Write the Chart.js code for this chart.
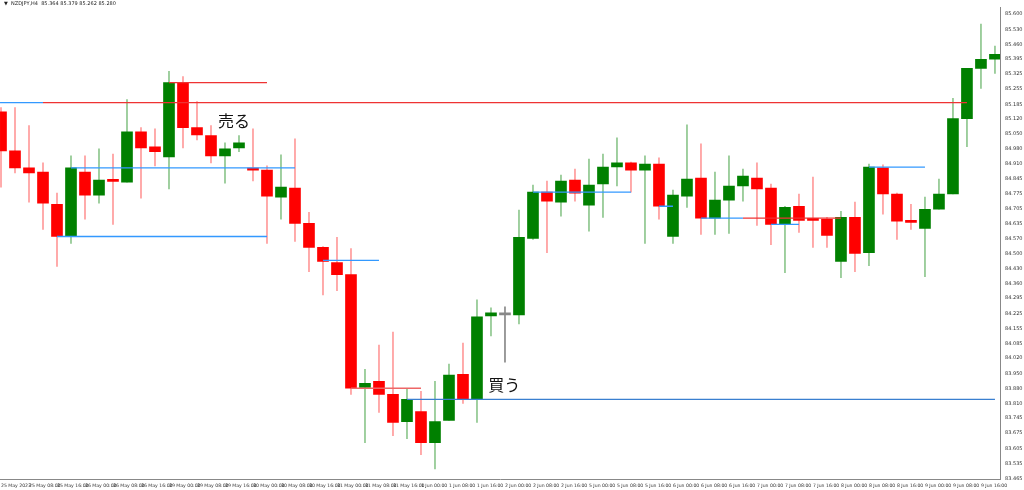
<!DOCTYPE html>
<html>
<head>
<meta charset="utf-8">
<script src="https://cdn.jsdelivr.net/npm/chart.js@4.4.0/dist/chart.umd.min.js"></script>
<style>
  html, body { margin: 0; padding: 0; background: #fff; }
  #wrap { width: 1024px; height: 490px; }
</style>
</head>
<body>
<div id="wrap"><canvas id="chart"></canvas></div>
<script>
// OHLC values (H4 candles)
const opens = [85.151,84.971,84.893,84.874,84.726,84.578,84.874,84.768,84.833,84.828,85.059,84.990,84.944,85.285,85.078,85.041,84.948,84.985,84.888,84.883,84.759,84.800,84.638,84.528,84.458,84.403,83.885,83.913,83.853,83.728,83.774,83.631,83.733,83.945,83.830,84.213,84.218,84.218,84.569,84.782,84.736,84.837,84.722,84.819,84.897,84.916,84.883,84.911,84.578,84.763,84.846,84.662,84.745,84.810,84.846,84.800,84.634,84.717,84.657,84.657,84.463,84.666,84.504,84.893,84.773,84.652,84.615,84.703,84.773,85.119,85.350,85.392];
const highs = [85.170,85.170,85.087,84.916,84.777,84.948,84.948,84.981,84.957,85.207,85.078,85.073,85.336,85.313,85.198,85.087,85.008,85.041,85.073,84.902,84.953,85.027,84.689,84.532,84.574,84.523,83.968,84.079,84.139,83.881,83.867,83.913,83.992,84.089,84.287,84.250,84.255,84.699,84.814,84.833,84.860,84.888,84.934,84.957,85.031,84.920,84.948,84.939,84.791,85.091,85.004,84.874,84.948,84.888,84.916,84.819,84.717,84.773,84.851,84.666,84.694,84.736,84.911,84.907,84.777,84.726,84.759,84.842,85.212,85.350,85.554,85.452];
const lows = [84.805,84.870,84.736,84.611,84.440,84.546,84.657,84.731,84.634,84.828,84.754,84.902,84.796,84.985,85.022,84.916,84.823,84.967,84.833,84.546,84.657,84.555,84.417,84.310,84.329,83.853,83.631,83.770,83.663,83.650,83.576,83.511,83.733,83.811,83.724,84.121,84.001,84.176,84.565,84.504,84.671,84.740,84.602,84.666,84.810,84.781,84.546,84.657,84.546,84.712,84.588,84.588,84.592,84.740,84.629,84.541,84.412,84.597,84.528,84.528,84.389,84.417,84.444,84.680,84.565,84.611,84.394,84.703,84.773,84.990,85.258,85.327];
const closes = [84.971,84.893,84.870,84.731,84.578,84.893,84.768,84.837,84.831,85.059,84.985,84.967,85.285,85.078,85.045,84.948,84.981,85.008,84.883,84.763,84.805,84.638,84.528,84.463,84.403,83.881,83.904,83.853,83.724,83.830,83.631,83.728,83.941,83.830,84.209,84.227,84.218,84.574,84.782,84.740,84.833,84.777,84.814,84.897,84.916,84.883,84.911,84.717,84.768,84.842,84.662,84.745,84.810,84.856,84.796,84.634,84.712,84.652,84.652,84.583,84.666,84.500,84.897,84.773,84.648,84.643,84.703,84.773,85.119,85.350,85.392,85.415];

// price axis labels (right side)
const priceTicks = ['85.600','85.530','85.460','85.395','85.325','85.255','85.185','85.120','85.050','84.980','84.910','84.845','84.775','84.705','84.635','84.570','84.500','84.430','84.360','84.295','84.225','84.155','84.085','84.020','83.950','83.880','83.810','83.745','83.675','83.605','83.535','83.465'];

// time axis labels, one every two candles
const timeLabels = ['25 May 2023','25 May 08:00','25 May 16:00','26 May 00:00','26 May 08:00','26 May 16:00','29 May 00:00','29 May 08:00','29 May 16:00','30 May 00:00','30 May 08:00','30 May 16:00','31 May 00:00','31 May 08:00','31 May 16:00','1 Jun 00:00','1 Jun 08:00','1 Jun 16:00','2 Jun 00:00','2 Jun 08:00','2 Jun 16:00','5 Jun 00:00','5 Jun 08:00','5 Jun 16:00','6 Jun 00:00','6 Jun 08:00','6 Jun 16:00','7 Jun 00:00','7 Jun 08:00','7 Jun 16:00','8 Jun 00:00','8 Jun 08:00','8 Jun 16:00','9 Jun 00:00','9 Jun 08:00','9 Jun 16:00'];

// horizontal levels drawn on the chart: [fromCandle, toCandle, price, colour]
const levelStarts = [-0.1, 3, 12, 5, 4, 23, 25, 29, 38, 47, 50, 53, 55, 62];
const levelEnds   = [3, 69, 19, 21, 19, 27, 30, 71, 45, 48, 53, 60, 57, 66];
const levelPrices = [85.193, 85.193, 85.285, 84.893, 84.578, 84.468, 83.881, 83.830, 84.782, 84.717, 84.662, 84.662, 84.634, 84.897];
const levelColors = ['#3399ff','#ee3333','#ee3333','#3399ff','#3399ff','#3399ff','#ee6666','#3a7fd0','#3399ff','#3399ff','#3399ff','#ee3333','#3399ff','#3399ff'];

const UP = '#008000';
const DOWN = '#ff0000';

const idx = opens.map((_, i) => i);
const candleColor = idx.map(i => closes[i] > opens[i] ? UP : (closes[i] < opens[i] ? DOWN : '#888888'));
const wickColor = idx.map(i => closes[i] > opens[i] ? 'rgba(0,128,0,0.45)' : (closes[i] < opens[i] ? 'rgba(255,0,0,0.4)' : '#888888'));

const datasets = [
  {
    type: 'bar',
    data: idx.map(i => ({ x: i, y: [lows[i], highs[i]] })),
    backgroundColor: wickColor,
    barThickness: 1,
    grouped: false,
    order: 2
  },
  {
    type: 'bar',
    data: idx.map(i => ({ x: i, y: [opens[i], closes[i]] })),
    backgroundColor: candleColor,
    barThickness: 11,
    minBarLength: 2,
    grouped: false,
    order: 1
  }
];

levelStarts.forEach((s, k) => {
  datasets.push({
    type: 'line',
    data: [{ x: s, y: levelPrices[k] }, { x: levelEnds[k], y: levelPrices[k] }],
    borderColor: levelColors[k],
    borderWidth: 1.3,
    pointRadius: 0,
    order: 0
  });
});

const overlay = {
  id: 'overlay',
  afterDraw(chart) {
    const { ctx, scales } = chart;
    ctx.save();
    ctx.fillStyle = '#222';
    ctx.font = '5px "DejaVu Sans"';
    ctx.textBaseline = 'middle';
    ctx.fillText('▼  NZDJPY,H4  85.364 85.379 85.262 85.280', 4, 4);
    ctx.font = '16px "Noto Sans CJK JP"';
    ctx.fillStyle = '#111';
    ctx.fillText('売る', scales.x.getPixelForValue(15.5), scales.y.getPixelForValue(85.110));
    ctx.fillText('買う', scales.x.getPixelForValue(34.8), scales.y.getPixelForValue(83.895));
    ctx.restore();
  }
};

new Chart(document.getElementById('chart'), {
  data: { datasets },
  options: {
    responsive: true,
    maintainAspectRatio: false,
    animation: false,
    layout: { padding: { top: 7, left: 0, right: 0, bottom: 0 } },
    plugins: { legend: { display: false }, tooltip: { enabled: false } },
    scales: {
      x: {
        type: 'linear',
        offset: false,
        min: -0.07,
        max: 71.36,
        grid: { display: false, drawTicks: true, tickLength: 3, color: '#888' },
        border: { color: '#888' },
        afterBuildTicks: s => { s.ticks = timeLabels.map((_, k) => ({ value: 2 * k })); },
        ticks: {
          autoSkip: false,
          maxRotation: 0,
          align: 'start',
          padding: 1,
          font: { size: 4.6, family: 'DejaVu Sans' },
          color: '#333',
          callback: (v, k) => timeLabels[k]
        }
      },
      y: {
        position: 'right',
        min: 83.462,
        max: 85.632,
        grid: { display: false, tickLength: 3, color: '#888' },
        border: { color: '#888' },
        afterFit: s => { s.width = 24; },
        afterBuildTicks: s => { s.ticks = priceTicks.map(t => ({ value: parseFloat(t) })); },
        ticks: {
          autoSkip: false,
          padding: 2,
          font: { size: 5, family: 'DejaVu Sans' },
          color: '#333',
          callback: (v, k) => priceTicks[k]
        }
      }
    }
  },
  plugins: [overlay]
});
</script>
</body>
</html>
